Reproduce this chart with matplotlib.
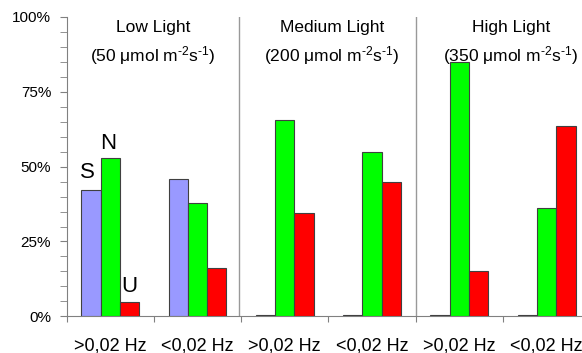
import matplotlib
matplotlib.use("Agg")
import matplotlib.pyplot as plt
import numpy as np

plt.rcParams['font.family'] = ['Liberation Sans', 'DejaVu Sans']
plt.rcParams['mathtext.fontset'] = 'custom'
plt.rcParams['mathtext.rm'] = 'Liberation Sans'
plt.rcParams['mathtext.it'] = 'Liberation Sans:italic'
plt.rcParams['mathtext.default'] = 'regular'

# Data
categories = [">0,02 Hz", "<0,02 Hz", ">0,02 Hz", "<0,02 Hz", ">0,02 Hz", "<0,02 Hz"]
S_values = [42.1, 45.8, 0.3, 0.3, 0.3, 0.3]
N_values = [52.9, 38.0, 65.5, 55.0, 84.9, 36.2]
U_values = [4.7, 16.0, 34.4, 44.9, 15.0, 63.7]
panel_titles = ["Low Light", "Medium Light", "High Light"]
panel_subtitles = [r"(50 μmol m$^{\text{-2}}$s$^{\text{-1}}$)",
                   r"(200 μmol m$^{\text{-2}}$s$^{\text{-1}}$)",
                   r"(350 μmol m$^{\text{-2}}$s$^{\text{-1}}$)"]
yticks = [0, 25, 50, 75, 100]
ytick_labels = ["0%", "25%", "50%", "75%", "100%"]

W, H = 582, 353
fig = plt.figure(figsize=(W / 100, H / 100), dpi=100)
left = 66.5 / W
bottom = (H - 316.3) / H
top = (H - 17) / H
ax = fig.add_axes([left, bottom, 6 * 87.3 / W, top - bottom])

x = np.arange(len(categories))
bw = 0.221
edge = '#404040'
ax.bar(x - bw, S_values, bw, color='#9999FF', edgecolor=edge, linewidth=0.8, zorder=3)
ax.bar(x, N_values, bw, color='#00FF00', edgecolor=edge, linewidth=0.8, zorder=3)
ax.bar(x + bw, U_values, bw, color='#FF0000', edgecolor=edge, linewidth=0.8, zorder=3)

ax.set_xlim(-0.5, 5.5)
ax.set_ylim(0, 100)

for s in ['top', 'right']:
    ax.spines[s].set_visible(False)
ax.spines['left'].set_color('#808080')
ax.spines['bottom'].set_color('#808080')

# y ticks
ax.set_yticks(yticks)
ax.set_yticklabels(ytick_labels, fontsize=11)
ax.set_yticks(np.arange(0, 101, 5), minor=True)
ax.tick_params(axis='y', which='both', length=5, color='#808080', direction='out', pad=6)

# x ticks: boundaries as major, labels as minor
ax.set_xticks(np.arange(-0.5, 6.0, 1.0))
ax.set_xticklabels([])
ax.set_xticks(x, categories, minor=True, fontsize=13)
ax.tick_params(axis='x', which='major', length=4, color='#808080', direction='out')
ax.tick_params(axis='x', which='minor', length=0, pad=15)

# separators
for sx in [1.48, 3.5]:
    ax.axvline(sx, color='#999999', linewidth=1, zorder=2)

# panel titles
title_x = [0.49, 2.54, 4.59]
for tx, t, st in zip(title_x, panel_titles, panel_subtitles):
    ax.text(tx, 96.5, t, ha='center', va='center', fontsize=12.5)
    ax.text(tx, 87.0, st, ha='center', va='center', fontsize=12.5)

# S N U labels
ax.text(-0.258, 48.0, "S", ha='center', va='center', fontsize=16)
ax.text(-0.02, 57.8, "N", ha='center', va='center', fontsize=16)
ax.text(0.22, 9.8, "U", ha='center', va='center', fontsize=16)

fig.savefig("out.png", dpi=100)
